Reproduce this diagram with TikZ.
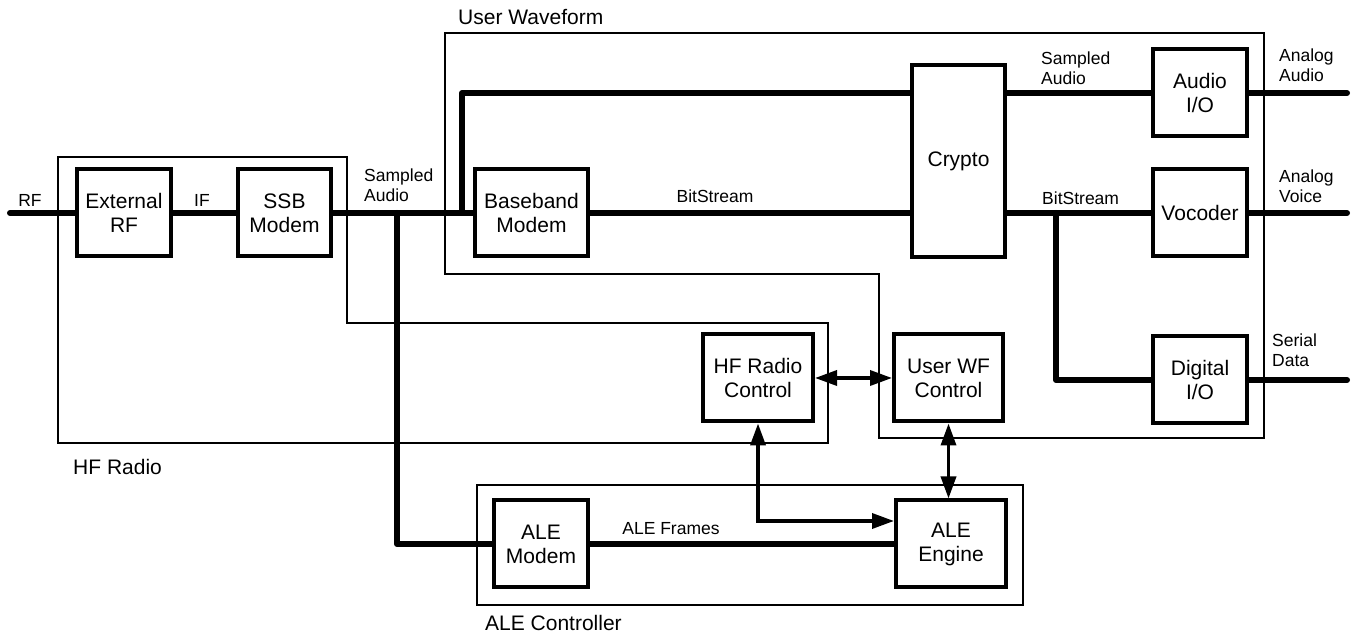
\documentclass[tikz,border=0pt]{standalone}
\usepackage{fontspec}
\setmainfont{Liberation Sans}
\usetikzlibrary{arrows.meta}
\tikzset{
    blk/.style={draw, line width=4pt, align=center, inner sep=0pt,
        minimum width=94pt, minimum height=87pt,
        font=\fontsize{21}{24}\selectfont},
    bus/.style={line width=6pt, line cap=round, line join=round},
    ctrl/.style={line width=3.5pt,
        {Triangle[length=22pt,width=15pt]}-{Triangle[length=22pt,width=15pt]}},
    grp/.style={line width=1.2pt},
    lbl/.style={inner sep=0pt, align=left, font=\fontsize{17.5}{20}\selectfont},
    grplbl/.style={inner sep=0pt, anchor=west, font=\fontsize{21}{24}\selectfont}
}
\begin{document}
\begin{tikzpicture}[x=1pt, y=1pt]
                \useasboundingbox (0,0) rectangle (1351,636);
                \draw (58,479)--(347,479)--(347,313)--(828,313)--(828,193)--(58,193)--cycle [grp];
                \draw (445,603)--(1264,603)--(1264,198)--(879,198)--(879,362)--(445,362)--cycle [grp];
                \draw (477,31) rectangle (1023,151) [grp];
                \node[grplbl] (hfradio) at (73,169) {HF Radio};
                \node[grplbl] (userwf) at (458,619) {User Waveform};
                \node[grplbl] (alectl) at (485,13) {ALE Controller};
                \node[blk] (extrf) at (124,423) {External\\RF};
                \node[blk, minimum width=93pt] (ssb) at (284.5,423) {SSB\\Modem};
                \node[blk, minimum width=113pt] (baseband) at (531.5,423) {Baseband\\Modem};
                \node[blk, minimum width=93pt, minimum height=192pt] (crypto) at (958.5,475) {Crypto};
                \node[blk] (audioio) at (1200,543) {Audio\\I/O};
                \node[blk] (vocoder) at (1200,423) {Vocoder};
                \node[blk] (digitalio) at (1200,256) {Digital\\I/O};
                \node[blk, minimum width=110pt] (hfctrl) at (758,258) {HF Radio\\Control};
                \node[blk, minimum width=109pt] (userctrl) at (948.5,258) {User WF\\Control};
                \node[blk] (alemodem) at (541,92) {ALE\\Modem};
                \node[blk, minimum width=110pt] (aleengine) at (951,92) {ALE\\Engine};
                \coordinate (rfin) at (10,423);
                \coordinate (tapale) at (397,423);
                \coordinate (tapup) at (462,423);
                \coordinate (tapdig) at (1056,423);
                \coordinate (audioout) at (1347,543);
                \coordinate (voiceout) at (1347,423);
                \coordinate (dataout) at (1347,256);
                \draw (rfin)--(extrf.west) [bus];
                \draw (extrf.east)--(ssb.west) [bus];
                \draw (ssb.east)--(baseband.west) [bus];
                \draw (tapale)|-(alemodem.west) [bus];
                \draw (tapup)|-(crypto.west |- audioio) [bus];
                \draw (baseband.east)--(baseband.east -| crypto.west) [bus];
                \draw (crypto.east |- audioio)--(audioio.west) [bus];
                \draw (crypto.east |- vocoder)--(vocoder.west) [bus];
                \draw (tapdig)|-(digitalio.west) [bus];
                \draw (audioio.east)--(audioout) [bus];
                \draw (vocoder.east)--(voiceout) [bus];
                \draw (digitalio.east)--(dataout) [bus];
                \draw (alemodem.east)--(aleengine.west) [bus];
                \draw (hfctrl.east)--(userctrl.west) [ctrl];
                \draw (hfctrl.south)|-([yshift=23pt]aleengine.west) [ctrl];
                \draw (userctrl.south)--(userctrl.south |- aleengine.north) [ctrl];
                \node[lbl] (rflbl) at (30,436) {RF};
                \node[lbl] (iflbl) at (202,436) {IF};
                \node[lbl, anchor=west] (sa1) at (364,451) {Sampled\\Audio};
                \node[lbl] (bs1) at (715,440) {BitStream};
                \node[lbl, anchor=west] (sa2) at (1041,568) {Sampled\\Audio};
                \node[lbl, anchor=west] (bs2) at (1042,438) {BitStream};
                \node[lbl, anchor=west] (aa) at (1279,571) {Analog\\Audio};
                \node[lbl, anchor=west] (av) at (1279,450) {Analog\\Voice};
                \node[lbl, anchor=west] (sd) at (1272,286) {Serial\\Data};
                \node[lbl] (alef) at (671,107) {ALE Frames};
\end{tikzpicture}
\end{document}
